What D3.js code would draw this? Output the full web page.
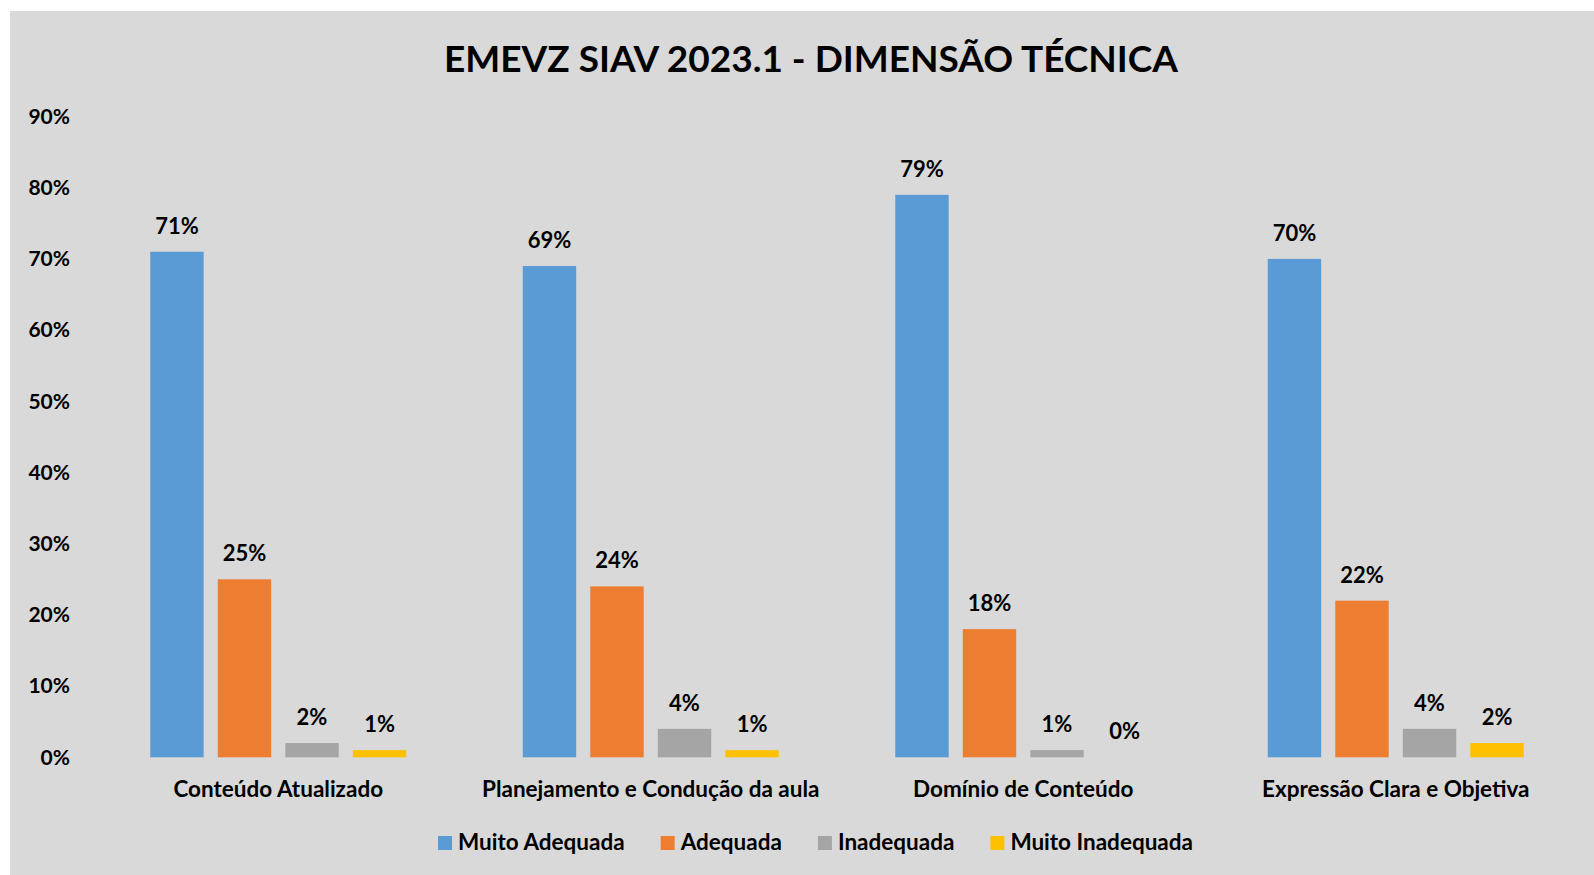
<!DOCTYPE html>
<html>
<head>
<meta charset="utf-8">
<script src="https://cdn.jsdelivr.net/npm/d3@7"></script>
<style>
  body { margin: 0; background: #fff; }
  text { font-family: Lato, "Open Sans", sans-serif; font-weight: bold; fill: #000; }
</style>
</head>
<body>
<div id="root"></div>
<script>
// chart data
var categories = ["Conteúdo Atualizado", "Planejamento e Condução da aula", "Domínio de Conteúdo", "Expressão Clara e Objetiva"]
var series = ["Muito Adequada", "Adequada", "Inadequada", "Muito Inadequada"]
var muitoAdequada = [71, 69, 79, 70]
var adequada = [25, 24, 18, 22]
var inadequada = [2, 4, 1, 4]
var muitoInadequada = [1, 1, 0, 2]
var yTicks = [0, 10, 20, 30, 40, 50, 60, 70, 80, 90]
var colors = ["#5B9BD5", "#ED7D31", "#A5A5A5", "#FFC000"]
var title = "EMEVZ SIAV 2023.1 - DIMENSÃO TÉCNICA"

function drawChart() {
  var width = 1594, height = 875
  var values = [muitoAdequada, adequada, inadequada, muitoInadequada]

  var svg = d3.select("#root").append("svg")
    .attr("width", width)
    .attr("height", height)

  // grey chart area
  svg.append("rect")
    .attr("x", 10).attr("y", 11)
    .attr("width", width - 10).attr("height", height - 11)
    .attr("fill", "#D9D9D9")

  svg.append("text")
    .attr("x", 811).attr("y", 72)
    .attr("text-anchor", "middle")
    .style("font-size", "37px")
    .text(title)

  var x = d3.scaleBand()
    .domain(categories)
    .range([92, 1582])
    .paddingInner(0.3128)
    .paddingOuter(0.1564)

  var xs = d3.scaleBand()
    .domain(series)
    .range([0, x.bandwidth()])
    .paddingInner(0.209)

  var y = d3.scaleLinear()
    .domain([0, 90])
    .range([757.3, 116.5])

  // y axis labels only
  var yAxis = d3.axisLeft(y)
    .tickValues(yTicks)
    .tickSize(0)
    .tickPadding(0)
    .tickFormat(function(d){ return d + "%" })
  var ga = svg.append("g")
    .attr("transform", "translate(70,0)")
    .call(yAxis)
  ga.select(".domain").remove()
  ga.selectAll("text")
    .style("font-size", "21px")
    .style("font-family", "Lato, 'Open Sans', sans-serif")
    .attr("fill", "#000")

  // bars
  var groups = svg.selectAll(".grp")
    .data(categories)
    .enter().append("g")
    .attr("class", "grp")
    .attr("transform", function(d){ return "translate(" + x(d) + ",0)" })

  groups.each(function(cat, i) {
    var g = d3.select(this)
    var rows = series.map(function(s, j){ return { s: s, v: values[j][i], c: colors[j] } })
    g.selectAll("rect")
      .data(rows)
      .enter().append("rect")
      .attr("x", function(d){ return xs(d.s) })
      .attr("y", function(d){ return y(d.v) })
      .attr("width", xs.bandwidth())
      .attr("height", function(d){ return y(0) - y(d.v) })
      .attr("fill", function(d){ return d.c })
    g.selectAll(".lbl")
      .data(rows)
      .enter().append("text")
      .attr("class", "lbl")
      .attr("x", function(d){ return xs(d.s) + xs.bandwidth() / 2 })
      .attr("y", function(d){ return y(d.v) - 18 })
      .attr("text-anchor", "middle")
      .style("font-size", "22px")
      .text(function(d){ return d.v + "%" })
  })

  // category labels
  svg.selectAll(".cat")
    .data(categories)
    .enter().append("text")
    .attr("class", "cat")
    .attr("x", function(d){ return x(d) + x.bandwidth() / 2 })
    .attr("y", 797)
    .attr("text-anchor", "middle")
    .style("font-size", "22.5px")
    .text(function(d){ return d })

  // legend, laid out from the text widths and centred
  var leg = svg.append("g")
  var items = leg.selectAll(".leg")
    .data(series)
    .enter().append("g")
    .attr("class", "leg")
  items.append("rect")
    .attr("y", 836)
    .attr("width", 14).attr("height", 14)
    .attr("fill", function(d, i){ return colors[i] })
  items.append("text")
    .attr("x", 20).attr("y", 850)
    .style("font-size", "22.5px")
    .text(function(d){ return d })
  var pos = 0
  items.each(function() {
    var w = 20 + d3.select(this).select("text").node().getComputedTextLength()
    d3.select(this).attr("transform", "translate(" + pos + ",0)")
    pos += w + 36
  })
  var total = pos - 36
  leg.attr("transform", "translate(" + (815.5 - total / 2) + ",0)")
}
drawChart()
</script>
</body>
</html>
